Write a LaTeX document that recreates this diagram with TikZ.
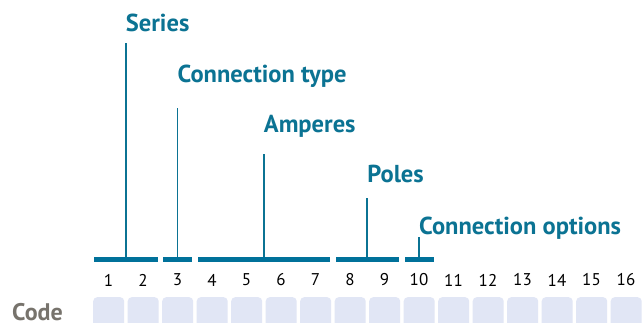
\documentclass[tikz,border=0pt]{standalone}
\usepackage{fontspec}
\setmainfont{PT Sans}
\usetikzlibrary{positioning}
\definecolor{Teal}  {HTML}{0B7393}
\definecolor{BarT}  {HTML}{00719A}
\definecolor{CellF} {HTML}{E1E6F5}
\definecolor{CGray} {HTML}{77736C}
\tikzset{
  cell/.style={
    rectangle, rounded corners=4pt, fill=CellF,
    minimum width=31pt, minimum height=40pt,
    inner sep=0pt, anchor=north west,
  },
  num/.style={
    font=\fontsize{17}{17}\selectfont, text=black, inner sep=0pt,
  },
  bar/.style={
    rectangle, fill=BarT, minimum height=5pt, inner sep=0pt,
  },
  lbl/.style={
    font=\fontsize{24.5}{24.5}\selectfont\bfseries, text=Teal,
    inner sep=0pt, anchor=base west,
  },
  codelbl/.style={
    font=\fontsize{24}{24}\selectfont\bfseries, text=CGray,
    inner sep=0pt, anchor=base west,
  },
  stem/.style={draw=Teal, line width=1.6pt},
}
\begin{document}
\begin{tikzpicture}[x=1pt,y=-1pt]
  \clip (0,0) rectangle (643,323);
  \fill[white] (0,0) rectangle (643,323);
  % code cells and positions
  \foreach \i in {1,...,16} {
    \node[cell] (c\i) at ({93+(\i-1)*34.5},297) {};
    \node[num]  (n\i) at ({108.5+(\i-1)*34.5},280) {\i};
  }
  \node[codelbl] (code) at (12,320) {Code};
  % groups with their labels
  \foreach \n/\a/\b/\base/\top/\txt in {
      ser/1/2/32/43/Series,
      con/3/3/83/108/Connection type,
      amp/4/7/133/154/Amperes,
      pol/8/9/183/198/Poles,
      opt/10/10/235/237/Connection options} {
    \node[bar, minimum width={((\b-\a)*34.5+29)*1pt}] (b\n)
      at ({93+(\a-1)*34.5+((\b-\a)*34.5+31)/2},260) {};
    \coordinate (t\n) at ([yshift={(260-\top)*1pt}]b\n.center);
    \node[lbl] (l\n) at ([yshift={(260-\base)*1pt}]b\n.center) {\txt};
    \draw[stem] (b\n.north) -- (t\n);
  }
\end{tikzpicture}
\end{document}
